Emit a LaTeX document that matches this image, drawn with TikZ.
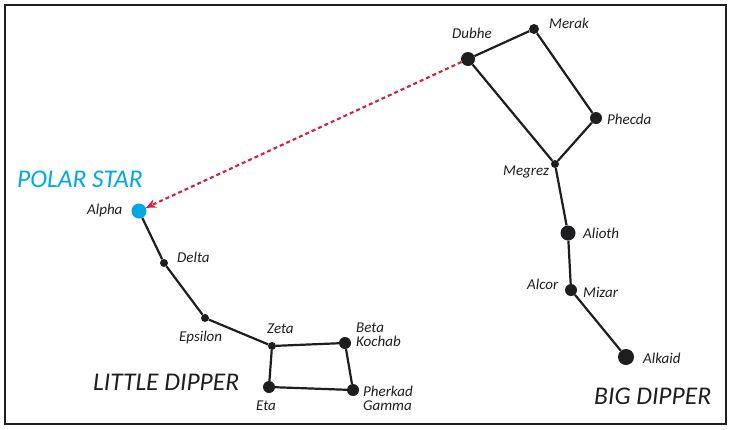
\documentclass[tikz,border=0pt]{standalone}
\usepackage{fontspec}
\setmainfont{Carlito}
\usetikzlibrary{arrows.meta}

\definecolor{polarblue}{RGB}{0,168,228}
\definecolor{pointerred}{RGB}{214,32,62}
\definecolor{starblack}{RGB}{30,30,32}

\tikzset{
  stardot/.style={circle, fill=starblack, inner sep=0pt, minimum size=#1},
  stardot/.default=8pt,
  starname/.style={anchor=base west, inner sep=0pt, text=starblack,
    font=\fontsize{15}{14}\selectfont\itshape},
  groupname/.style={anchor=base west, inner sep=0pt, text=starblack,
    font=\fontsize{25.5}{26}\selectfont\itshape},
  link/.style={draw=starblack, line width=2.2pt}
}

\begin{document}
\begin{tikzpicture}[x=1pt,y=-1pt]
\useasboundingbox (0,0) rectangle (733,429);
\draw[starblack, line width=2pt] (5,5) rectangle (726,424);

% little dipper
\node[circle, fill=polarblue, inner sep=0pt, minimum size=15pt] (alpha) at (139,211) {};
\node[stardot] (delta) at (164,263) {};
\node[stardot] (epsilon) at (205,318) {};
\node[stardot] (zeta) at (272,346) {};
\node[stardot=12pt] (kochab) at (345,343) {};
\node[stardot=12pt] (pherkad) at (353,390) {};
\node[stardot=12pt] (eta) at (269,387) {};

\draw[link] (alpha) -- (delta) -- (epsilon) -- (zeta) -- (kochab)
  -- (pherkad) -- (eta) -- (zeta);

% big dipper
\node[stardot=14pt] (dubhe) at (468,59) {};
\node[stardot=10pt] (merak) at (534,29) {};
\node[stardot=12pt] (phecda) at (596,118) {};
\node[stardot] (megrez) at (555,164) {};
\node[stardot=15pt] (alioth) at (568,233) {};
\node[stardot=12pt] (mizar) at (571,290) {};
\node[stardot=16pt] (alkaid) at (626,357) {};

\draw[link] (dubhe) -- (merak) -- (phecda) -- (megrez) -- (dubhe);
\draw[link] (megrez) -- (alioth) -- (mizar) -- (alkaid);

% pointer
\draw[pointerred, line width=2.1pt, dash pattern=on 4pt off 3pt,
  -{Stealth[length=10pt, width=9pt]}] (dubhe) -- (alpha);

% names
\node[starname] (dubhetxt) at (452,38) {Dubhe};
\node[starname] (meraktxt) at (549,28) {Merak};
\node[starname] (phecdatxt) at (607,124) {Phecda};
\node[starname] (megreztxt) at (503,175) {Megrez};
\node[starname] (aliothtxt) at (583,238) {Alioth};
\node[starname] (alcortxt) at (527,289) {Alcor};
\node[starname] (mizartxt) at (583,297) {Mizar};
\node[starname] (alkaidtxt) at (643,363) {Alkaid};
\node[starname] (alphatxt) at (87,214) {Alpha};
\node[starname] (deltatxt) at (177,262) {Delta};
\node[starname] (epsilontxt) at (179,341) {Epsilon};
\node[starname] (zetatxt) at (267,333) {Zeta};
\node[starname, align=left] (kochabtxt) at (356,346) {Beta\\Kochab};
\node[starname, align=left] (pherkadtxt) at (363,410) {Pherkad\\Gamma};
\node[starname] (etatxt) at (256,410) {Eta};

\node[groupname, text=polarblue] (polartxt) at (17,187) {POLAR STAR};
\node[groupname] (littletxt) at (93,390) {LITTLE DIPPER};
\node[groupname] (bigtxt) at (594,404) {BIG DIPPER};
\end{tikzpicture}
\end{document}
